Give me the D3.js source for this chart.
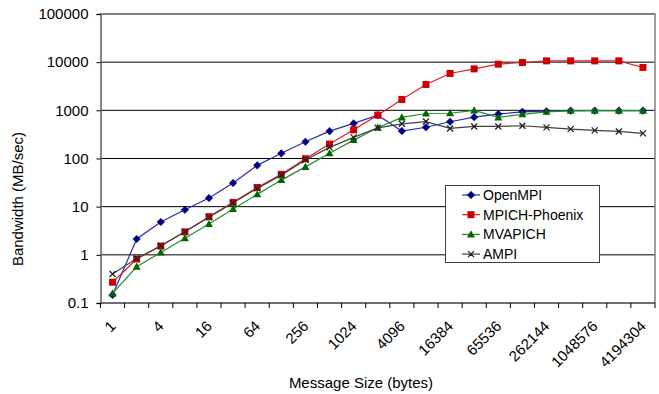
<!DOCTYPE html>
<html>
<head>
<meta charset="utf-8">
<script src="https://cdn.jsdelivr.net/npm/d3@7"></script>
<style>
  html, body { margin: 0; padding: 0; background: #fff; }
  svg { display: block; font-family: "Liberation Sans", Arial, sans-serif; }
</style>
</head>
<body>
<svg id="chart" width="659" height="394"></svg>
<script>
// ---- data ----
const sizes = ["1","2","4","8","16","32","64","128","256","512","1024","2048","4096","8192",
  "16384","32768","65536","131072","262144","524288","1048576","2097152","4194304"];
const xTickLabels = ["1","4","16","64","256","1024","4096","16384","65536","262144","1048576","4194304"];
const yTickValues = [0.1, 1, 10, 100, 1000, 10000, 100000];
const yTickLabels = ["0.1","1","10","100","1000","10000","100000"];
const seriesNames = ["OpenMPI", "MPICH-Phoenix", "MVAPICH", "AMPI"];
const openmpi = [0.147, 2.13, 4.8, 8.6, 15.1, 31, 72, 128, 222, 370, 535, 795, 372, 445, 580, 722, 835, 931, 960, 985, 985, 985, 985];
const mpich   = [0.27, 0.82, 1.52, 3.0, 6.2, 12.3, 25, 47, 99, 199, 394, 795, 1683, 3445, 5830, 7260, 9080, 9850, 10640, 10640, 10640, 10640, 7760];
const mvapich = [0.158, 0.566, 1.12, 2.2, 4.35, 8.9, 18, 35.6, 67, 128, 241, 434, 712, 860, 870, 995, 712, 825, 931, 977, 985, 985, 985];
const ampi    = [0.40, 0.84, 1.55, 3.0, 6.0, 12, 24, 45, 93, 170, 274, 434, 525, 585, 421, 463, 463, 478, 443, 408, 383, 365, 332];

const seriesData = [openmpi, mpich, mvapich, ampi];
const lineColors = ["#2b2bb0", "#dd2020", "#22902a", "#404040"];
const markerColors = ["#000080", "#cc0000", "#006600", "#222222"];
const markerTypes = ["diamond", "square", "triangle", "x"];

// ---- layout ----
const svg = d3.select("#chart");
const L = 100.5, R = 655, T = 14, B = 303;

const x = d3.scaleBand().domain(sizes).range([L, R]).padding(0);
const y = d3.scaleLog().domain([0.1, 100000]).range([B, T]);

// gridlines
svg.append("g").selectAll("line")
  .data(yTickValues.filter(v => v > 0.1))
  .join("line")
  .attr("x1", L).attr("x2", R)
  .attr("y1", d => y(d)).attr("y2", d => y(d))
  .attr("stroke", "#000").attr("stroke-width", 1);

// plot frame (right + top)
svg.append("path")
  .attr("d", `M${L},${T}H${R}V${B}`)
  .attr("fill", "none").attr("stroke", "#808080").attr("stroke-width", 1.5);

// y axis
const yAxis = d3.axisLeft(y).tickValues(yTickValues)
  .tickFormat((d, i) => yTickLabels[i]).tickSize(4).tickPadding(8);
const gy = svg.append("g").attr("transform", `translate(${L},0)`).call(yAxis);
gy.select(".domain").attr("stroke", "#606060").attr("stroke-width", 1.5);
gy.selectAll(".tick line").attr("stroke", "#000");
gy.selectAll("text").attr("font-size", 15).attr("fill", "#000")
  .attr("font-family", "Liberation Sans, Arial, sans-serif");

// x axis line
svg.append("line").attr("x1", L).attr("x2", R).attr("y1", B).attr("y2", B)
  .attr("stroke", "#404040").attr("stroke-width", 1.5);
// x tick marks at band boundaries
const boundaries = sizes.map(s => x(s)).concat([x(sizes[sizes.length - 1]) + x.bandwidth()]);
svg.append("g").selectAll("line").data(boundaries).join("line")
  .attr("x1", d => d).attr("x2", d => d).attr("y1", B).attr("y2", B + 5)
  .attr("stroke", "#000").attr("stroke-width", 1);
// x labels
svg.append("g").selectAll("text").data(xTickLabels).join("text")
  .attr("transform", d => `translate(${x(d) + x.bandwidth() / 2 + 4},${B + 24}) rotate(-45)`)
  .attr("text-anchor", "end")
  .attr("font-size", 15).attr("fill", "#000")
  .text(d => d);

// axis titles
svg.append("text").attr("x", 361).attr("y", 388).attr("text-anchor", "middle")
  .attr("font-size", 15).text("Message Size (bytes)");
svg.append("text").attr("transform", "translate(23,199) rotate(-90)")
  .attr("text-anchor", "middle").attr("font-size", 15).text("Bandwidth (MB/sec)");

// marker drawer
function drawMarker(g, type, color, cx, cy) {
  if (type === "diamond") {
    g.append("path").attr("d", `M${cx},${cy - 3.8}L${cx + 3.8},${cy}L${cx},${cy + 3.8}L${cx - 3.8},${cy}Z`)
      .attr("fill", color).attr("stroke", color).attr("stroke-width", 0.5);
  } else if (type === "square") {
    g.append("rect").attr("x", cx - 3.5).attr("y", cy - 3.5).attr("width", 7).attr("height", 7)
      .attr("fill", color);
  } else if (type === "triangle") {
    g.append("path").attr("d", `M${cx},${cy - 4.2}L${cx + 4},${cy + 3}L${cx - 4},${cy + 3}Z`)
      .attr("fill", color);
  } else {
    g.append("path").attr("d", `M${cx - 3},${cy - 3}L${cx + 3},${cy + 3}M${cx - 3},${cy + 3}L${cx + 3},${cy - 3}`)
      .attr("stroke", color).attr("stroke-width", 1.3).attr("fill", "none");
  }
}

const line = d3.line()
  .x((d, i) => x(sizes[i]) + x.bandwidth() / 2)
  .y(d => y(d));

const drawOrder = [0, 1, 2, 3];
drawOrder.forEach(k => {
  const g = svg.append("g");
  g.append("path").datum(seriesData[k]).attr("d", line)
    .attr("fill", "none").attr("stroke", lineColors[k]).attr("stroke-width", 1.2);
  seriesData[k].forEach((v, i) => {
    drawMarker(g, markerTypes[k], markerColors[k], x(sizes[i]) + x.bandwidth() / 2, y(v));
  });
});

// legend
const lg = svg.append("g");
lg.append("rect").attr("x", 445.5).attr("y", 185.5).attr("width", 154).attr("height", 77)
  .attr("fill", "#fff").attr("stroke", "#404040").attr("stroke-width", 1);
seriesNames.forEach((name, k) => {
  const cy = 195 + k * 19.7;
  lg.append("line").attr("x1", 462).attr("x2", 480).attr("y1", cy).attr("y2", cy)
    .attr("stroke", lineColors[k]).attr("stroke-width", 1.2);
  drawMarker(lg, markerTypes[k], markerColors[k], 471, cy);
  lg.append("text").attr("x", 483).attr("y", cy).attr("dy", "0.36em")
    .attr("font-size", 14).attr("fill", "#000").text(name);
});
</script>
</body>
</html>
